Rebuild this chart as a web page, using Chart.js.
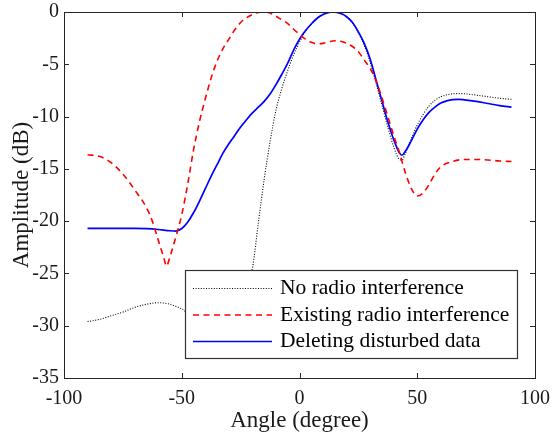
<!DOCTYPE html>
<html>
<head>
<meta charset="utf-8">
<script src="https://cdn.jsdelivr.net/npm/chart.js@4/dist/chart.umd.min.js"></script>
<style>
html,body{margin:0;padding:0;background:#fff;}
#wrap{width:552px;height:434px;}
</style>
</head>
<body>
<div id="wrap"><canvas id="beamChart"></canvas></div>
<script>
// No radio interference (black dotted)
const noInterfAngle = [-90,-85,-80,-75,-70,-65,-60,-55,-50,-47.5,-45,-40,-35,-30,-25,-20,-17.5,-15,-12.5,-10,-7.5,-5,-2.5,0,2.5,5,7.5,10,12.5,14.5,17.5,20,22.5,25,27.5,30,32.5,35,37.5,40,42.5,43.5,45,47.5,50,52.5,55,57.5,60,62.5,65,67.5,70,75,80,85,90];
const noInterfDb = [-29.6,-29.4,-29.05,-28.7,-28.25,-27.95,-27.8,-27.95,-28.4,-28.8,-29.4,-30.3,-30.5,-29.6,-27.5,-24.5,-20.2,-16.0,-12.4,-9.4,-7.3,-5.6,-4.1,-2.9,-1.85,-1.15,-0.6,-0.25,-0.03,0,-0.12,-0.45,-1.05,-2.0,-3.2,-4.8,-6.8,-8.9,-11.0,-12.9,-14.1,-14.15,-13.5,-12.1,-10.8,-9.8,-9.0,-8.45,-8.1,-7.92,-7.82,-7.8,-7.82,-7.95,-8.1,-8.25,-8.35];

// Existing radio interference (red dashed)
const existAngle = [-90,-85,-80,-75,-70,-65,-62.5,-60,-57.5,-56.5,-55,-52.5,-50,-47.5,-45,-42.5,-40,-37.5,-35,-32.5,-30,-27.5,-25,-22.5,-20,-17.5,-15,-12.5,-10,-7.5,-5,-2.5,0,2.5,5,7.5,10,12.5,15,17.5,20,22.5,25,27.5,30,32.5,35,37.5,40,42.5,45,47.5,50,52.5,55,57.5,60,65,70,75,80,85,90];
const existDb = [-13.65,-13.8,-14.4,-15.5,-17.0,-18.7,-20.0,-21.8,-23.6,-24.3,-23.4,-21.5,-19.4,-16.5,-13.2,-10.5,-8.3,-6.3,-4.7,-3.5,-2.6,-1.7,-1.0,-0.55,-0.25,-0.05,0,-0.1,-0.4,-0.75,-1.1,-1.65,-2.15,-2.6,-2.9,-3.05,-3.0,-2.85,-2.75,-2.8,-3.0,-3.3,-3.8,-4.6,-5.4,-6.6,-8.2,-10.0,-11.8,-13.5,-15.4,-16.9,-17.6,-17.3,-16.5,-15.5,-14.8,-14.3,-14.1,-14.1,-14.15,-14.25,-14.3];

// Deleting disturbed data (blue solid)
const deleteAngle = [-90,-80,-70,-65,-60,-55,-52.5,-50,-47.5,-45,-42.5,-40,-37.5,-35,-32.5,-30,-27.5,-25,-22.5,-20,-17.5,-15,-12.5,-10,-7.5,-5,-2.5,0,2.5,5,7.5,10,12.5,14.3,17.5,20,22.5,25,27.5,30,32.5,35,37.5,40,42.5,43.5,45,47.5,50,52.5,55,57.5,60,62.5,65,67.5,70,75,80,85,90];
const deleteDb = [-20.7,-20.7,-20.7,-20.72,-20.8,-20.92,-20.95,-20.7,-20.1,-19.2,-18.1,-16.9,-15.7,-14.6,-13.5,-12.6,-11.8,-11.0,-10.3,-9.65,-9.1,-8.55,-7.85,-6.95,-5.95,-4.9,-3.65,-2.6,-1.8,-1.15,-0.6,-0.25,-0.03,0,-0.15,-0.45,-1.0,-1.9,-3.0,-4.5,-6.5,-8.5,-10.5,-12.2,-13.5,-13.7,-13.3,-12.3,-11.2,-10.3,-9.6,-9.1,-8.7,-8.5,-8.38,-8.35,-8.4,-8.55,-8.75,-8.95,-9.1];

const seriesNames = ["No radio interference","Existing radio interference","Deleting disturbed data"];
const xTicks = [-100,-50,0,50,100];
const yTicks = [-35,-30,-25,-20,-15,-10,-5,0];

function pairs(xs, ys){
    return xs.map((x,i)=>({x:x, y:ys[i]}));
}

const axisColor = "#262626";
const serif = "'Liberation Serif','Times New Roman',serif";

// box, inward ticks and the legend box inside the plot
const matlabAxes = {
    id:"matlabAxes",
    afterDraw(chart){
        const ctx = chart.ctx;
        const a = chart.chartArea;
        const xs = chart.scales.x, ys = chart.scales.y;
        ctx.save();
        ctx.strokeStyle = axisColor;
        ctx.lineWidth = 1;
        ctx.strokeRect(a.left+0.5, a.top+0.5, a.right-a.left, a.bottom-a.top);
        ctx.beginPath();
        xTicks.forEach(v=>{
            const p = Math.round(xs.getPixelForValue(v))+0.5;
            ctx.moveTo(p,a.bottom); ctx.lineTo(p,a.bottom-5);
            ctx.moveTo(p,a.top); ctx.lineTo(p,a.top+5);
        });
        yTicks.forEach(v=>{
            const p = Math.round(ys.getPixelForValue(v))+0.5;
            ctx.moveTo(a.left,p); ctx.lineTo(a.left+5,p);
            ctx.moveTo(a.right,p); ctx.lineTo(a.right-5,p);
        });
        ctx.stroke();

        // legend
        const w = 332, h = 88;
        const lx = a.right - 18 - w, ly = a.bottom - 20 - h;
        ctx.fillStyle = "#fff";
        ctx.fillRect(lx, ly, w, h);
        ctx.strokeStyle = "#333";
        ctx.lineWidth = 1.2;
        ctx.strokeRect(lx+0.5, ly+0.5, w, h);
        [0,1,2].forEach((k,i)=>{
            const ds = chart.data.datasets[k];
            const cy = ly + 18.5 + i*26.5;
            ctx.beginPath();
            ctx.strokeStyle = ds.borderColor;
            ctx.lineWidth = ds.borderWidth;
            ctx.setLineDash(ds.borderDash || []);
            ctx.moveTo(lx+8, cy); ctx.lineTo(lx+87, cy);
            ctx.stroke();
            ctx.setLineDash([]);
            ctx.fillStyle = "#000";
            ctx.font = "21.5px " + serif;
            ctx.textBaseline = "middle";
            ctx.textAlign = "left";
            ctx.fillText(ds.label, lx+95, cy);
        });
        ctx.restore();
    }
};

new Chart(document.getElementById("beamChart"),{
    type:"line",
    data:{
        datasets:[
            {label:seriesNames[0], data:pairs(noInterfAngle,noInterfDb), borderColor:"#000000", borderWidth:1.1, borderDash:[1,1.6], order:2},
            {label:seriesNames[1], data:pairs(existAngle,existDb), borderColor:"#ff0000", borderWidth:1.6, borderDash:[6,4.5], order:0},
            {label:seriesNames[2], data:pairs(deleteAngle,deleteDb), borderColor:"#0000ff", borderWidth:1.7, order:1}
        ]
    },
    plugins:[matlabAxes],
    options:{
        responsive:true,
        maintainAspectRatio:false,
        animation:false,
        layout:{padding:{left:0,right:17,top:12,bottom:0}},
        elements:{
            point:{radius:0},
            line:{cubicInterpolationMode:"monotone", fill:false}
        },
        plugins:{
            legend:{display:false},
            tooltip:{enabled:false}
        },
        scales:{
            x:{
                type:"linear",
                min:-100, max:100,
                afterBuildTicks(s){ s.ticks = xTicks.map(v=>({value:v})); },
                afterFit(s){ s.height = 56; s.paddingLeft = 0; s.paddingRight = 0; },
                grid:{display:false, drawTicks:false},
                border:{display:false},
                ticks:{color:"#1a1a1a", font:{family:serif, size:20}, padding:9, maxRotation:0},
                title:{display:true, text:"Angle (degree)", color:"#1a1a1a", font:{family:serif, size:23, lineHeight:1.1}, padding:{top:0,bottom:0}}
            },
            y:{
                type:"linear",
                min:-35, max:0,
                afterBuildTicks(s){ s.ticks = yTicks.map(v=>({value:v})); },
                afterFit(s){ s.width = 64; s.paddingTop = 0; s.paddingBottom = 0; },
                grid:{display:false, drawTicks:false},
                border:{display:false},
                ticks:{color:"#1a1a1a", font:{family:serif, size:20}, padding:5},
                title:{display:true, text:"Amplitude (dB)", color:"#1a1a1a", font:{family:serif, size:23}, padding:{top:8,bottom:0}}
            }
        }
    }
});
</script>
</body>
</html>
